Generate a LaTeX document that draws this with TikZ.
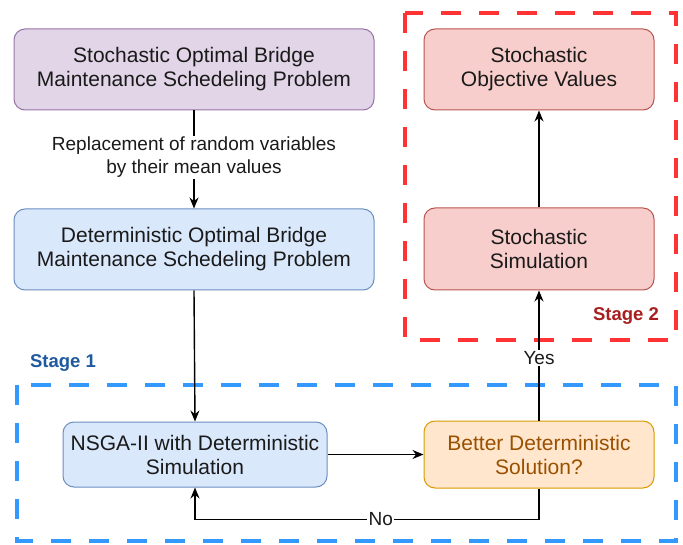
\documentclass[tikz,border=0pt]{standalone}
\usepackage{fontspec}
\setmainfont{Liberation Sans}
\usetikzlibrary{arrows.meta}
\definecolor{txt}{HTML}{1A1A1A}
\definecolor{pfill}{HTML}{E1D5E7}\definecolor{pdraw}{HTML}{9673A6}
\definecolor{bfill}{HTML}{DAE8FC}\definecolor{bdraw}{HTML}{6C8EBF}
\definecolor{rfill}{HTML}{F8CECC}\definecolor{rdraw}{HTML}{B85450}
\definecolor{ofill}{HTML}{FFE6CC}\definecolor{odraw}{HTML}{D79B00}
\definecolor{otext}{HTML}{995000}
\definecolor{redframe}{HTML}{FF3333}\definecolor{blueframe}{HTML}{3399FF}
\definecolor{stageone}{HTML}{1F5A9E}\definecolor{stagetwo}{HTML}{A81E1E}
\tikzset{
  box/.style={rounded corners=11pt, line width=1pt, align=center, text=txt,
    font=\fontsize{21}{24}\selectfont, inner sep=0pt},
  arr/.style={line width=1.4pt, -{Stealth[length=11pt,width=9pt]}},
  lbl/.style={fill=white, text=txt, inner sep=1.5pt, font=\fontsize{19}{23}\selectfont, align=center},
  frame/.style={line width=4.5pt, dash pattern=on 20pt off 18pt},
  stagelbl/.style={font=\bfseries\fontsize{18.5}{22}\selectfont, inner sep=0pt}
}
\begin{document}
\begin{tikzpicture}[x=1pt,y=-1pt]
\useasboundingbox (0,0) rectangle (683,545);
% frames
\draw[frame, redframe] (405,13) rectangle (676,340);
\draw[frame, blueframe] (17,385) rectangle (676,541);
\node[stagelbl, text=stagetwo] (s2) at (626,316) {Stage 2};
\node[stagelbl, text=stageone] (s1) at (63,363) {Stage 1};
% boxes
\node[box, fill=pfill, draw=pdraw, minimum width=360pt, minimum height=81pt] (p) at (194,69.5)
  {Stochastic Optimal Bridge\\Maintenance Schedeling Problem};
\node[box, fill=bfill, draw=bdraw, minimum width=360pt, minimum height=81pt] (d) at (194,249.5)
  {Deterministic Optimal Bridge\\Maintenance Schedeling Problem};
\node[box, fill=rfill, draw=rdraw, minimum width=230pt, minimum height=81pt] (o) at (539,69.5)
  {Stochastic\\Objective Values};
\node[box, fill=rfill, draw=rdraw, minimum width=230pt, minimum height=82pt] (s) at (539,249)
  {Stochastic\\Simulation};
\node[box, fill=bfill, draw=bdraw, minimum width=264pt, minimum height=65pt] (n) at (195,454.5)
  {NSGA-II with Deterministic\\Simulation};
\node[box, fill=ofill, draw=odraw, text=otext, minimum width=230pt, minimum height=67pt] (b) at (539,454.5)
  {Better Deterministic\\Solution?};
% connectors
\draw[arr] (p) -- node[lbl, pos=0.48] {Replacement of random variables\\by their mean values} (d);
\draw[arr] (d.south) -- (n.north);
\draw[arr] (n) -- (b);
\draw[arr] (b) -- node[lbl, pos=0.48] {Yes} (s);
\draw[arr] (s) -- (o);
\draw[arr] (b.south) -- ++(0,31) coordinate (nc) -- node[lbl, pos=0.46] {No} (nc -| n.south) -- (n.south);
\end{tikzpicture}
\end{document}
